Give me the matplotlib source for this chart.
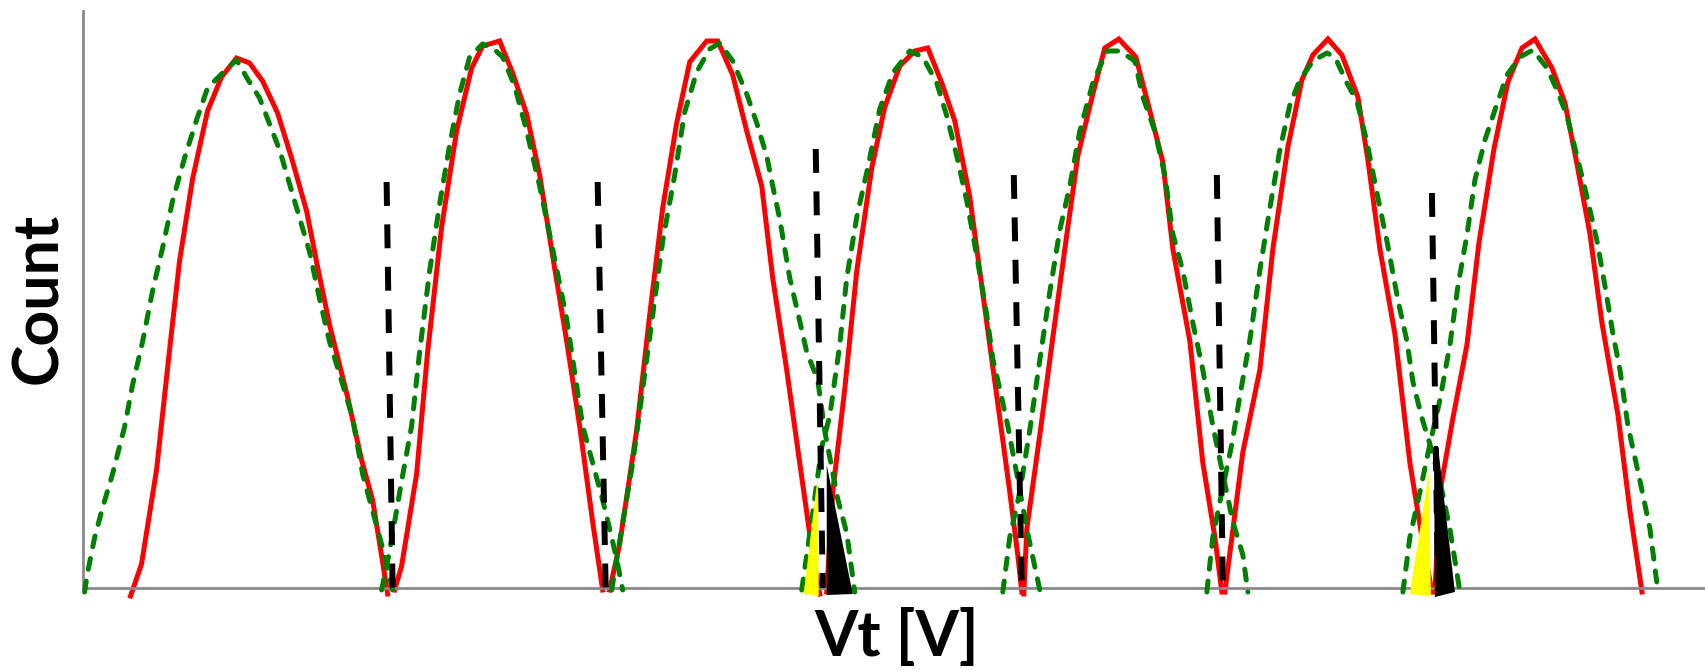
import matplotlib
matplotlib.use("Agg")
import matplotlib.pyplot as plt

# threshold-voltage distributions, vt in mV (arbitrary offset), counts arbitrary
red_vt = [
    [48, 59, 74, 87, 97, 110, 125, 139, 154, 167, 180, 195, 209, 224, 235, 247, 265, 279, 290, 300, 305],
    [312, 319, 334, 345, 359, 374, 389, 400, 417, 430, 444, 457, 470, 484, 497, 510, 520],
    [527, 537, 554, 567, 580, 594, 607, 624, 635, 650, 664, 679, 690, 704, 717, 730, 737],
    [744, 750, 762, 774, 789, 802, 817, 832, 845, 859, 872, 887, 897, 907, 917, 927, 935, 939],
    [941, 944, 957, 969, 982, 995, 1010, 1022, 1036, 1053, 1065, 1080, 1090, 1107, 1120, 1132, 1139],
    [1142, 1160, 1177, 1190, 1205, 1219, 1230, 1245, 1259, 1275, 1285, 1297, 1312, 1327, 1339, 1349],
    [1352, 1357, 1370, 1384, 1396, 1411, 1425, 1439, 1452, 1469, 1482, 1494, 1507, 1519, 1535, 1547, 1559],
]
red_cnt = [
    [-8, 24, 118, 238, 327, 409, 477, 511, 530, 525, 507, 475, 430, 377, 321, 263, 191, 128, 88, 26, -6],
    [-2, 22, 114, 236, 361, 457, 520, 542, 547, 515, 474, 413, 332, 247, 162, 66, -2],
    [-2, 44, 158, 273, 380, 465, 526, 547, 547, 513, 457, 402, 310, 218, 125, 33, -6],
    [-4, 96, 199, 317, 420, 481, 522, 537, 540, 505, 467, 391, 317, 243, 170, 96, 33, -4],
    [-6, 59, 153, 243, 339, 432, 494, 540, 549, 531, 485, 426, 339, 247, 125, 51, -4],
    [-4, 136, 218, 339, 441, 508, 533, 549, 533, 491, 428, 339, 254, 125, 51, -4],
    [-4, 96, 170, 243, 345, 439, 506, 540, 549, 520, 485, 424, 354, 265, 173, 77, -4],
]

green_vt = [
    [2, 5, 12, 20, 30, 42, 50, 60, 70, 80, 90, 102, 114, 125, 140, 154, 165, 177, 187, 197, 207, 217,
     227, 237, 247, 257, 270, 280, 290, 300, 310],
    [299, 307, 319, 329, 337, 347, 357, 367, 377, 387, 400, 410, 420, 432, 444, 457, 470, 484, 500, 510,
     520, 527, 534, 540],
    [529, 539, 550, 560, 570, 580, 592, 602, 614, 627, 637, 650, 664, 674, 684, 690, 697, 707, 714, 724,
     735, 742, 755, 764, 772],
    [719, 729, 739, 747, 757, 764, 774, 785, 797, 810, 827, 840, 854, 864, 874, 884, 894, 904, 910, 917,
     925, 934, 944, 957],
    [920, 927, 937, 947, 957, 967, 977, 987, 997, 1010, 1024, 1037, 1052, 1060, 1072, 1082, 1090, 1100,
     1110, 1120, 1130, 1140, 1150, 1160, 1165],
    [1124, 1130, 1139, 1149, 1157, 1167, 1177, 1187, 1197, 1207, 1217, 1230, 1244, 1252, 1264, 1274, 1284,
     1294, 1304, 1315, 1324, 1330, 1339, 1347, 1357, 1367, 1377],
    [1320, 1327, 1337, 1347, 1357, 1367, 1375, 1384, 1392, 1402, 1412, 1424, 1437, 1450, 1464, 1474, 1484,
     1494, 1504, 1514, 1522, 1530, 1537, 1545, 1557, 1567, 1575],
]
green_cnt = [
    [-4, 15, 50, 80, 114, 161, 203, 246, 297, 340, 387, 430, 468, 500, 515, 528, 509, 490, 464, 438, 404,
     370, 336, 289, 246, 214, 170, 114, 77, 40, -2],
    [-2, 37, 107, 162, 236, 317, 384, 443, 494, 531, 544, 540, 531, 502, 457, 402, 339, 269, 162, 125,
     88, 59, 29, -2],
    [-2, 59, 125, 199, 273, 347, 413, 476, 516, 539, 545, 527, 494, 465, 432, 402, 369, 310, 280, 236,
     208, 157, 89, 55, -4],
    [-2, 68, 141, 172, 243, 310, 371, 420, 479, 515, 537, 531, 505, 472, 432, 387, 332, 273, 229, 199,
     162, 114, 59, -2],
    [-4, 51, 96, 158, 228, 296, 358, 402, 457, 505, 537, 537, 527, 491, 457, 413, 354, 317, 265, 218,
     162, 114, 66, 33, -4],
    [-4, 51, 96, 144, 192, 248, 318, 380, 438, 483, 508, 527, 535, 531, 505, 487, 446, 395, 347, 288,
     247, 206, 170, 144, 107, 59, -4],
    [-4, 51, 96, 144, 188, 243, 302, 353, 408, 448, 478, 513, 531, 538, 520, 498, 472, 432, 391, 347,
     302, 254, 218, 162, 107, 59, -4],
]

# read reference levels (slightly tilted dashed markers)
vref_top_vt = [304, 515, 733, 931, 1134, 1349]
vref_bot_vt = [310, 523, 740, 939, 1140, 1355]
vref_top_cnt = [406, 406, 439, 413, 413, 395]

# overlap (error) areas
yellow_vt = [[735, 721, 736], [1346, 1327, 1348]]
yellow_cnt = [[112, -6, -8], [116, -6, -8]]
black_vt = [[744, 744, 770], [1351, 1355, 1372, 1352]]
black_cnt = [[123, -7, -6], [142, 142, -4, -9]]

fig = plt.figure(figsize=(17.05, 6.70), dpi=100)
ax = fig.add_axes([0.0484, 0.1224, 0.9516, 0.8612])

for vt, cnt in zip(red_vt, red_cnt):
    ax.plot(vt, cnt, color="#ff0000", lw=3.6, solid_joinstyle="miter", clip_on=False, zorder=2)

for vt, cnt in zip(green_vt, green_cnt):
    ax.plot(vt, cnt, color="#008000", lw=3.6, dashes=(2.2, 2.4), dash_capstyle="round",
            clip_on=False, zorder=3)

# filled overlap areas sit above the distributions
for vt, cnt in zip(yellow_vt, yellow_cnt):
    ax.fill(vt, cnt, color="#ffff00", lw=0, clip_on=False, zorder=4)
for vt, cnt in zip(black_vt, black_cnt):
    ax.fill(vt, cnt, color="black", lw=0, clip_on=False, zorder=4)

for x0, x1, top in zip(vref_top_vt, vref_bot_vt, vref_top_cnt):
    ax.plot([x0, x1], [top, 0], color="black", lw=4.3, dashes=(4.0, 3.1),
            dash_capstyle="butt", zorder=5)

ax.set_xlim(0, 1622)
ax.set_ylim(0, 577)
for side in ["top", "right"]:
    ax.spines[side].set_visible(False)
for side in ["left", "bottom"]:
    ax.spines[side].set_color("#898989")
    ax.spines[side].set_linewidth(2)
ax.set_xticks([])
ax.set_yticks([])

fig.text(0.526, 0.021, "Vt [V]", ha="center", va="baseline", fontsize=45,
         fontweight="bold", family="Lato")
fig.text(0.0229, 0.554, "Count", ha="center", va="center", rotation=90, fontsize=45,
         fontweight="bold", family="Lato")

fig.savefig("out.png", dpi=100)
